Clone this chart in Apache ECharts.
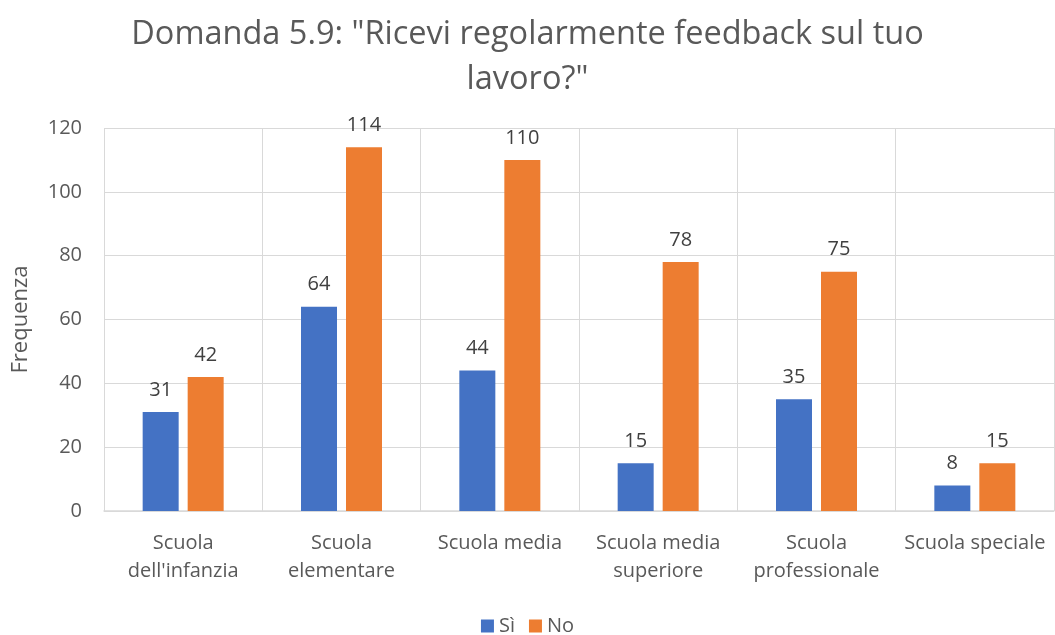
<!DOCTYPE html>
<html>
<head>
<meta charset="utf-8">
<script src="https://cdn.jsdelivr.net/npm/echarts@6/dist/echarts.min.js"></script>
<style>
  html, body { margin: 0; padding: 0; background: #ffffff; }
  #chart { width: 1055px; height: 635px; }
</style>
</head>
<body>
<div id="chart"></div>
<script>
// Categories and counts per answer
const categories = [
  "Scuola\ndell'infanzia",
  "Scuola\nelementare",
  "Scuola media",
  "Scuola media\nsuperiore",
  "Scuola\nprofessionale",
  "Scuola speciale"
];
const seriesNames = ["Sì", "No"];
const valuesSi = [31, 64, 44, 15, 35, 8];
const valuesNo = [42, 114, 110, 78, 75, 15];
const yTicks = { min: 0, max: 120, interval: 20 };

const FONT = "'Open Sans', 'Noto Sans', sans-serif";
const TEXT = '#595959';
const GRID = '#d9d9d9';

const chart = echarts.init(document.getElementById('chart'), null, { renderer: 'canvas' });

function barSeries(name, data, color) {
  return {
    name: name,
    type: 'bar',
    data: data,
    barWidth: 36,
    barGap: '25%',
    itemStyle: { color: color },
    label: {
      show: true,
      position: 'top',
      distance: 12,
      color: '#404040',
      fontFamily: FONT,
      fontSize: 20
    }
  };
}

chart.setOption({
  animation: false,
  backgroundColor: '#ffffff',
  title: {
    text: 'Domanda 5.9: "Ricevi regolarmente feedback sul tuo\nlavoro?"',
    left: 'center',
    top: 7,
    textStyle: {
      fontFamily: FONT,
      fontSize: 32.5,
      fontWeight: 'normal',
      color: TEXT,
      lineHeight: 45
    }
  },
  legend: {
    data: seriesNames,
    top: 611,
    left: 'center',
    icon: 'rect',
    itemWidth: 13,
    itemHeight: 13,
    itemGap: 14,
    textStyle: { fontFamily: FONT, fontSize: 20, color: TEXT }
  },
  grid: { left: 104, right: 1, top: 128, bottom: 124 },
  xAxis: {
    type: 'category',
    data: categories,
    axisLine: { lineStyle: { color: GRID, width: 1.5 } },
    axisTick: { show: false },
    splitLine: { show: true, lineStyle: { color: GRID, width: 1 } },
    axisLabel: {
      fontFamily: FONT,
      fontSize: 20,
      color: TEXT,
      margin: 18,
      lineHeight: 28,
      interval: 0
    }
  },
  yAxis: {
    type: 'value',
    min: yTicks.min,
    max: yTicks.max,
    interval: yTicks.interval,
    name: 'Frequenza',
    nameLocation: 'middle',
    nameGap: 72,
    nameRotate: 90,
    nameTextStyle: { fontFamily: FONT, fontSize: 22, color: TEXT },
    axisLine: { show: false },
    axisTick: { show: false },
    splitLine: { lineStyle: { color: GRID, width: 1 } },
    axisLabel: { fontFamily: FONT, fontSize: 20, color: TEXT, margin: 22 }
  },
  series: [
    barSeries(seriesNames[0], valuesSi, '#4472c4'),
    barSeries(seriesNames[1], valuesNo, '#ed7d31')
  ]
});
</script>
</body>
</html>
